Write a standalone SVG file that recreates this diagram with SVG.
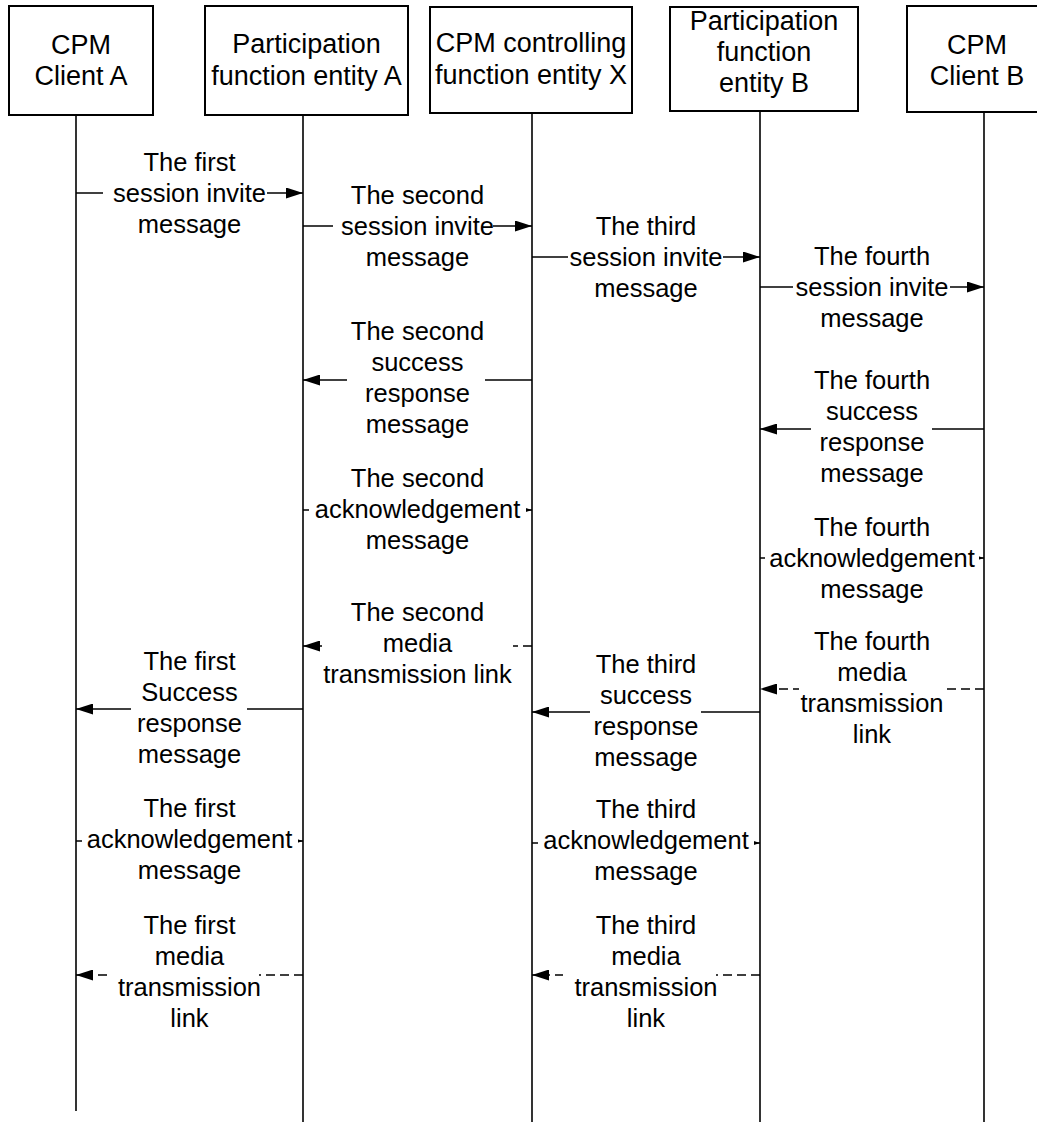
<svg xmlns="http://www.w3.org/2000/svg" width="1037" height="1122" viewBox="0 0 1037 1122">
  <style>
    .box { fill: #fff; stroke: #000; stroke-width: 2; }
    .life { stroke: #000; stroke-width: 1.6; fill: none; }
    .hd { font-family: "Liberation Sans", Arial, sans-serif; font-size: 27px; text-anchor: middle; fill: #000; }
    .msg { stroke: #000; stroke-width: 1.6; fill: none; marker-end: url(#ah); }
    .dash { stroke-dasharray: 9 5; }
    .bg { fill: #fff; stroke: none; }
    .lbl { font-family: "Liberation Sans", Arial, sans-serif; font-size: 25.5px; text-anchor: middle; fill: #000; }
  </style>
  <defs>
    <marker id="ah" viewBox="0 0 17 11" refX="17" refY="5.5" markerWidth="17" markerHeight="11" markerUnits="userSpaceOnUse" orient="auto">
      <path d="M0,0 L17,5.5 L0,11 z" fill="#000"/>
    </marker>
  </defs>

  <rect width="1037" height="1122" fill="#fff"/>

  <!-- participants with their lifelines -->
  <g id="client-a">
    <rect class="box" x="9" y="6" width="144" height="109"/>
    <text class="hd"><tspan x="81" y="54">CPM</tspan><tspan x="81" y="85">Client A</tspan></text>
    <line class="life" x1="76" y1="115" x2="76" y2="1111"/>
  </g>
  <g id="participation-a">
    <rect class="box" x="205" y="6" width="203" height="109"/>
    <text class="hd"><tspan x="306.5" y="53">Participation</tspan><tspan x="306.5" y="85">function entity A</tspan></text>
    <line class="life" x1="303" y1="115" x2="303" y2="1122"/>
  </g>
  <g id="controlling-x">
    <rect class="box" x="430" y="7" width="202" height="106"/>
    <text class="hd"><tspan x="531" y="52">CPM controlling</tspan><tspan x="531" y="84">function entity X</tspan></text>
    <line class="life" x1="532" y1="113" x2="532" y2="1122"/>
  </g>
  <g id="participation-b">
    <rect class="box" x="670" y="7" width="188" height="104"/>
    <text class="hd"><tspan x="764" y="30">Participation</tspan><tspan x="764" y="61">function</tspan><tspan x="764" y="92">entity B</tspan></text>
    <line class="life" x1="760" y1="111" x2="760" y2="1122"/>
  </g>
  <g id="client-b">
    <rect class="box" x="907" y="6" width="140" height="106"/>
    <text class="hd"><tspan x="977" y="54">CPM</tspan><tspan x="977" y="85">Client B</tspan></text>
    <line class="life" x1="984" y1="112" x2="984" y2="1122"/>
  </g>

  <!-- messages -->
  <g id="connectors">
    <path class="msg" d="M76,193 H303"/>
    <path class="msg" d="M303,226 H532"/>
    <path class="msg" d="M532,257 H760"/>
    <path class="msg" d="M760,287 H984"/>
    <path class="msg" d="M532,380 H303"/>
    <path class="msg" d="M984,429 H760"/>
    <path class="msg" d="M303,510 H532"/>
    <path class="msg" d="M760,558 H984"/>
    <path class="msg dash" d="M532,646 H303"/>
    <path class="msg dash" d="M984,689 H760"/>
    <path class="msg" d="M303,709 H76"/>
    <path class="msg" d="M760,712 H532"/>
    <path class="msg" d="M76,841 H303"/>
    <path class="msg" d="M532,843 H760"/>
    <path class="msg dash" d="M303,975 H76"/>
    <path class="msg dash" d="M760,975 H532"/>
  </g>

  <!-- message labels, each on a white strip that breaks its arrow -->
  <g id="labels">
    <g id="l1"><rect class="bg" x="103" y="187" width="164" height="12"/>
      <text class="lbl"><tspan x="189.5" y="171">The first</tspan><tspan x="189.5" y="202">session invite</tspan><tspan x="189.5" y="233">message</tspan></text></g>
    <g id="l2"><rect class="bg" x="333" y="220" width="160" height="12"/>
      <text class="lbl"><tspan x="417.5" y="204">The second</tspan><tspan x="417.5" y="235">session invite</tspan><tspan x="417.5" y="266">message</tspan></text></g>
    <g id="l3"><rect class="bg" x="568" y="251" width="155" height="12"/>
      <text class="lbl"><tspan x="646" y="235">The third</tspan><tspan x="646" y="266">session invite</tspan><tspan x="646" y="297">message</tspan></text></g>
    <g id="l4"><rect class="bg" x="793" y="281" width="157" height="12"/>
      <text class="lbl"><tspan x="872" y="265">The fourth</tspan><tspan x="872" y="296">session invite</tspan><tspan x="872" y="327">message</tspan></text></g>
    <g id="l5"><rect class="bg" x="347" y="374" width="138" height="12"/>
      <text class="lbl"><tspan x="417.5" y="340">The second</tspan><tspan x="417.5" y="371">success</tspan><tspan x="417.5" y="402">response</tspan><tspan x="417.5" y="433">message</tspan></text></g>
    <g id="l6"><rect class="bg" x="811" y="423" width="121" height="12"/>
      <text class="lbl"><tspan x="872" y="389">The fourth</tspan><tspan x="872" y="420">success</tspan><tspan x="872" y="451">response</tspan><tspan x="872" y="482">message</tspan></text></g>
    <g id="l7"><rect class="bg" x="309" y="504" width="217" height="12"/>
      <text class="lbl"><tspan x="417.5" y="487">The second</tspan><tspan x="417.5" y="518">acknowledgement</tspan><tspan x="417.5" y="549">message</tspan></text></g>
    <g id="l8"><rect class="bg" x="765" y="552" width="214" height="12"/>
      <text class="lbl"><tspan x="872" y="536">The fourth</tspan><tspan x="872" y="567">acknowledgement</tspan><tspan x="872" y="598">message</tspan></text></g>
    <g id="l9"><rect class="bg" x="322" y="640" width="191" height="12"/>
      <text class="lbl"><tspan x="417.5" y="621">The second</tspan><tspan x="417.5" y="652">media</tspan><tspan x="417.5" y="683">transmission link</tspan></text></g>
    <g id="l10"><rect class="bg" x="799" y="683" width="143" height="12"/>
      <text class="lbl"><tspan x="872" y="650">The fourth</tspan><tspan x="872" y="681">media</tspan><tspan x="872" y="712">transmission</tspan><tspan x="872" y="743">link</tspan></text></g>
    <g id="l11"><rect class="bg" x="131" y="703" width="116" height="12"/>
      <text class="lbl"><tspan x="189.5" y="670">The first</tspan><tspan x="189.5" y="701">Success</tspan><tspan x="189.5" y="732">response</tspan><tspan x="189.5" y="763">message</tspan></text></g>
    <g id="l12"><rect class="bg" x="590" y="706" width="111" height="12"/>
      <text class="lbl"><tspan x="646" y="673">The third</tspan><tspan x="646" y="704">success</tspan><tspan x="646" y="735">response</tspan><tspan x="646" y="766">message</tspan></text></g>
    <g id="l13"><rect class="bg" x="82" y="835" width="216" height="12"/>
      <text class="lbl"><tspan x="189.5" y="817">The first</tspan><tspan x="189.5" y="848">acknowledgement</tspan><tspan x="189.5" y="879">message</tspan></text></g>
    <g id="l14"><rect class="bg" x="538" y="837" width="216" height="12"/>
      <text class="lbl"><tspan x="646" y="818">The third</tspan><tspan x="646" y="849">acknowledgement</tspan><tspan x="646" y="880">message</tspan></text></g>
    <g id="l15"><rect class="bg" x="112" y="969" width="147" height="12"/>
      <text class="lbl"><tspan x="189.5" y="934">The first</tspan><tspan x="189.5" y="965">media</tspan><tspan x="189.5" y="996">transmission</tspan><tspan x="189.5" y="1027">link</tspan></text></g>
    <g id="l16"><rect class="bg" x="563" y="969" width="153" height="12"/>
      <text class="lbl"><tspan x="646" y="934">The third</tspan><tspan x="646" y="965">media</tspan><tspan x="646" y="996">transmission</tspan><tspan x="646" y="1027">link</tspan></text></g>
  </g>
</svg>
